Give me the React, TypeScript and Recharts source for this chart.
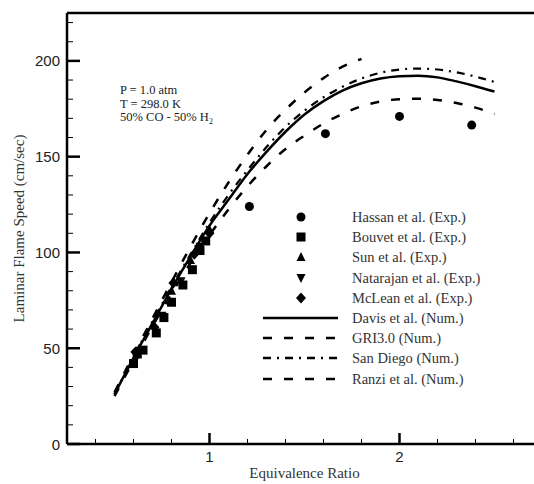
import React from 'react';
import { ComposedChart, Line, Scatter, XAxis, YAxis, Legend } from 'recharts';

// Equivalence ratio grid for the numerical models
const phi = [0.5, 0.6, 0.7, 0.8, 0.9, 1.0, 1.1, 1.2, 1.3, 1.4, 1.5, 1.6, 1.7, 1.8, 1.9, 2.0, 2.1, 2.2, 2.3, 2.4, 2.5];
const davis = [26, 45, 63, 81, 98, 114, 127.5, 141, 152.5, 163, 172, 179, 184.5, 188.3, 190.8, 192, 192.3, 191.4, 189.3, 186.8, 184];
const sanDiego = [26, 45.5, 64, 82, 99, 115.5, 130, 143, 155, 165.5, 174, 181, 186.5, 190.8, 193.8, 195.5, 196, 195.5, 194, 191.8, 189];
const ranzi = [25, 43.5, 61.5, 78.5, 94.5, 109, 122.5, 134.5, 145, 154, 161, 167.3, 172.3, 176.3, 178.8, 180, 180.2, 179.6, 178, 175.6, 172.3];
const griPhi = [0.5, 0.6, 0.7, 0.8, 0.9, 1.0, 1.1, 1.2, 1.3, 1.4, 1.5, 1.6, 1.7, 1.8];
const gri = [27, 46.5, 65.5, 84.5, 103, 120.5, 136.5, 151, 164, 174.5, 183.5, 191, 197, 201];

// Experimental data
const hassanPhi = [1.21, 1.61, 2.0, 2.38];
const hassanSpeed = [124, 162, 171, 166.5];
const bouvetPhi = [0.6, 0.62, 0.65, 0.72, 0.76, 0.8, 0.86, 0.91, 0.95, 0.98];
const bouvetSpeed = [42, 47, 49, 58, 66, 74, 83, 91, 101, 106];
const sunPhi = [0.63, 0.7, 0.8, 0.9, 1.0];
const sunSpeed = [50, 62, 80, 96, 112];
const natarajanPhi = [0.62, 0.75, 0.85, 0.95];
const natarajanSpeed = [46, 67, 85, 103];
const mcLeanPhi = [0.61, 0.71, 0.81, 0.92, 1.0];
const mcLeanSpeed = [48, 61, 84, 99, 110];

// Axis ticks
const xTicks = [0.4, 0.6, 0.8, 1, 1.2, 1.4, 1.6, 1.8, 2, 2.2, 2.4, 2.6];
const xMajor = [1, 2];
const yTicks = [0, 10, 20, 30, 40, 50, 60, 70, 80, 90, 100, 110, 120, 130, 140, 150, 160, 170, 180, 190, 200, 210, 220];
const yMajor = [0, 50, 100, 150, 200];

const legendNames = [
  'Hassan et al. (Exp.)',
  'Bouvet et al. (Exp.)',
  'Sun et al. (Exp.)',
  'Natarajan et al. (Exp.)',
  'McLean et al. (Exp.)',
  'Davis et al. (Num.)',
  'GRI3.0 (Num.)',
  'San Diego (Num.)',
  'Ranzi et al. (Num.)',
];
const legendKinds = ['circle', 'square', 'triangle', 'down', 'diamond', 'solid', 'dash', 'dashdot', 'dash'];

const zip = (xs: number[], ys: number[]) => xs.map((x, i) => ({ x, y: ys[i] }));

const SERIF = '"Liberation Serif", Tinos, "Times New Roman", Times, "DejaVu Serif", serif';
const SANS = '"Liberation Sans", Arimo, Arial, sans-serif';
const DASH = '9 12';
const DASHDOT = '8 6 2 6';

const Marker = ({ kind, cx, cy }: { kind: string; cx: number; cy: number }) => {
  const s = 4.5;
  switch (kind) {
    case 'circle':
      return <circle cx={cx} cy={cy} r={s} fill="#000" />;
    case 'square':
      return <rect x={cx - s} y={cy - s} width={2 * s} height={2 * s} fill="#000" />;
    case 'triangle':
      return <polygon points={`${cx},${cy - s - 0.5} ${cx + s},${cy + s - 0.5} ${cx - s},${cy + s - 0.5}`} fill="#000" />;
    case 'down':
      return <polygon points={`${cx},${cy + s + 0.5} ${cx + s},${cy - s + 0.5} ${cx - s},${cy - s + 0.5}`} fill="#000" />;
    case 'diamond':
      return <polygon points={`${cx},${cy - s - 1} ${cx + s + 0.5},${cy} ${cx},${cy + s + 1} ${cx - s - 0.5},${cy}`} fill="#000" />;
    default:
      return null;
  }
};

const shapeOf = (kind: string) => (p: any) => <Marker kind={kind} cx={p.cx} cy={p.cy} />;

const BottomTick = (props: any) => {
  const { x, y, payload } = props;
  const major = xMajor.includes(payload.value);
  return (
    <g>
      <line x1={x} x2={x} y1={y} y2={y - (major ? 11 : 5)} stroke="#000" strokeWidth={major ? 2.5 : 1} />
      {major && (
        <text x={x} y={y + 18} textAnchor="middle" fontFamily={SANS} fontSize={15} fill="#222">
          {payload.value}
        </text>
      )}
    </g>
  );
};

const TopTick = (props: any) => {
  const { x, y, payload } = props;
  const major = xMajor.includes(payload.value);
  return <line x1={x} x2={x} y1={y} y2={y + (major ? 11 : 5)} stroke="#000" strokeWidth={major ? 2.5 : 1} />;
};

const LeftTick = (props: any) => {
  const { x, y, payload } = props;
  const major = yMajor.includes(payload.value);
  return (
    <g>
      <line x1={x} x2={x + (major ? 13 : 6)} y1={y} y2={y} stroke="#000" strokeWidth={major ? 2.5 : 1} />
      {major && (
        <text x={x - 7} y={y + 5.5} textAnchor="end" fontFamily={SANS} fontSize={15} fill="#222">
          {payload.value}
        </text>
      )}
    </g>
  );
};

const LegendIcon = ({ kind }: { kind: string }) => {
  if (kind === 'solid' || kind === 'dash' || kind === 'dashdot') {
    return (
      <line
        x1={8}
        x2={83}
        y1={10}
        y2={10}
        stroke="#000"
        strokeWidth={2.5}
        strokeDasharray={kind === 'solid' ? undefined : kind === 'dash' ? DASH : DASHDOT}
      />
    );
  }
  return <Marker kind={kind} cx={46} cy={10} />;
};

const LegendBox = () => (
  <div style={{ fontFamily: SERIF, fontSize: 14.5, color: '#333' }}>
    {legendNames.map((name, i) => (
      <div key={name} style={{ display: 'flex', alignItems: 'center', height: 20.2 }}>
        <svg width={92} height={20} style={{ display: 'block' }}>
          <LegendIcon kind={legendKinds[i]} />
        </svg>
        <span style={{ marginLeft: 5, whiteSpace: 'nowrap', lineHeight: '20px' }}>{name}</span>
      </div>
    ))}
  </div>
);

const noteStyle: React.CSSProperties = {
  position: 'absolute',
  left: 120,
  fontFamily: SERIF,
  fontSize: 12.5,
  color: '#222',
  whiteSpace: 'nowrap',
  lineHeight: '14px',
};

export default function App() {
  return (
    <div style={{ position: 'absolute', left: 0, top: 0, width: 534, height: 484, overflow: 'hidden', background: '#fff' }}>
      <ComposedChart width={560} height={484} margin={{ top: 12, right: 18, bottom: 0, left: 0 }}>
        <XAxis
          dataKey="x"
          type="number"
          domain={[0.25, 2.75]}
          ticks={xTicks}
          interval={0}
          allowDataOverflow
          height={40}
          tickSize={0}
          tickMargin={0}
          tickLine={false}
          tick={<BottomTick />}
          axisLine={{ stroke: '#000', strokeWidth: 2.5 }}
          label={{
            value: 'Equivalence Ratio',
            position: 'insideBottom',
            offset: 6,
            fontFamily: SERIF,
            fontSize: 15,
            fill: '#333',
          }}
        />
        <XAxis
          xAxisId="top"
          orientation="top"
          type="number"
          domain={[0.25, 2.75]}
          ticks={xTicks}
          interval={0}
          allowDataOverflow
          height={1}
          tickSize={0}
          tickMargin={0}
          tickLine={false}
          tick={<TopTick />}
          axisLine={{ stroke: '#000', strokeWidth: 2.5 }}
        />
        <YAxis
          dataKey="y"
          type="number"
          domain={[0, 225]}
          ticks={yTicks}
          interval={0}
          allowDataOverflow
          width={67}
          tickSize={0}
          tickMargin={0}
          tickLine={false}
          tick={<LeftTick />}
          axisLine={{ stroke: '#000', strokeWidth: 2.5 }}
          label={{
            value: 'Laminar Flame Speed (cm/sec)',
            angle: -90,
            position: 'insideLeft',
            offset: 19,
            fontFamily: SERIF,
            fontSize: 15,
            fill: '#333',
            style: { textAnchor: 'middle', fontFamily: SERIF },
          }}
        />
        <Line data={zip(phi, davis)} dataKey="y" type="monotone" stroke="#000" strokeWidth={2.5} dot={false} activeDot={false} isAnimationActive={false} />
        <Line data={zip(griPhi, gri)} dataKey="y" type="monotone" stroke="#000" strokeWidth={2.5} strokeDasharray={DASH} dot={false} activeDot={false} isAnimationActive={false} />
        <Line data={zip(phi, sanDiego)} dataKey="y" type="monotone" stroke="#000" strokeWidth={2.2} strokeDasharray={DASHDOT} dot={false} activeDot={false} isAnimationActive={false} />
        <Line data={zip(phi, ranzi)} dataKey="y" type="monotone" stroke="#000" strokeWidth={2.5} strokeDasharray={DASH} dot={false} activeDot={false} isAnimationActive={false} />
        <Scatter data={zip(hassanPhi, hassanSpeed)} shape={shapeOf('circle')} isAnimationActive={false} />
        <Scatter data={zip(bouvetPhi, bouvetSpeed)} shape={shapeOf('square')} isAnimationActive={false} />
        <Scatter data={zip(sunPhi, sunSpeed)} shape={shapeOf('triangle')} isAnimationActive={false} />
        <Scatter data={zip(natarajanPhi, natarajanSpeed)} shape={shapeOf('down')} isAnimationActive={false} />
        <Scatter data={zip(mcLeanPhi, mcLeanSpeed)} shape={shapeOf('diamond')} isAnimationActive={false} />
        <Legend
          layout="vertical"
          align="center"
          verticalAlign="middle"
          wrapperStyle={{ left: 255, top: 207, width: 270 }}
          content={() => <LegendBox />}
        />
      </ComposedChart>
      <div style={{ ...noteStyle, top: 83 }}>P = 1.0 atm</div>
      <div style={{ ...noteStyle, top: 96.5 }}>T = 298.0 K</div>
      <div style={{ ...noteStyle, top: 110 }}>
        50% CO - 50% H<span style={{ fontSize: 8, position: 'relative', top: 3 }}>2</span>
      </div>
    </div>
  );
}
